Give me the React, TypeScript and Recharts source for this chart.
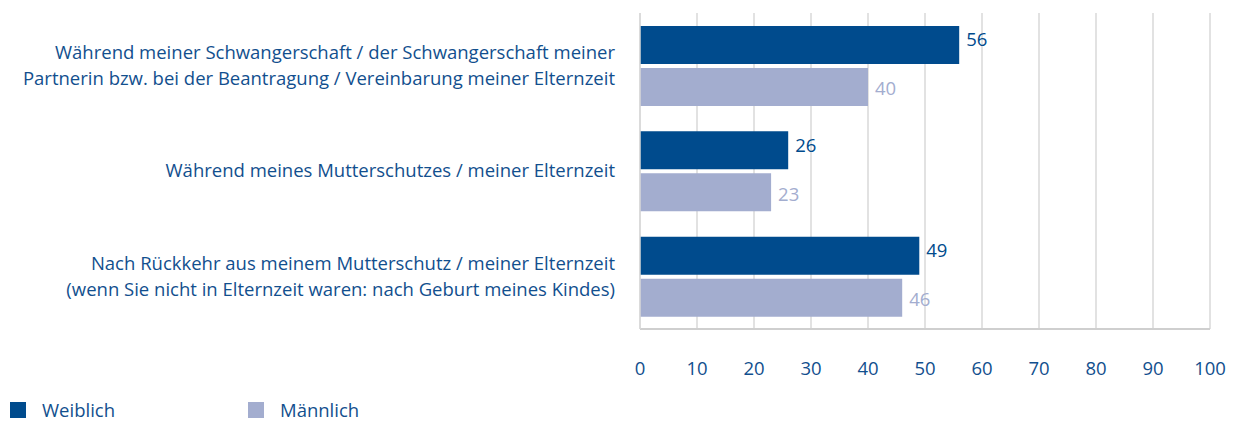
import { BarChart, Bar, XAxis, YAxis, CartesianGrid, LabelList } from "recharts"

const categories = [
  ["Während meiner Schwangerschaft / der Schwangerschaft meiner", "Partnerin bzw. bei der Beantragung / Vereinbarung meiner Elternzeit"],
  ["Während meines Mutterschutzes / meiner Elternzeit"],
  ["Nach Rückkehr aus meinem Mutterschutz / meiner Elternzeit", "(wenn Sie nicht in Elternzeit waren: nach Geburt meines Kindes)"],
]
const weiblich = [56, 26, 49]
const maennlich = [40, 23, 46]
const xTicks = [0, 10, 20, 30, 40, 50, 60, 70, 80, 90, 100]

const DARK = "#004b8d"
const LIGHT = "#a3adcf"
const TEXT = "#124f8e"
const FONT = "'Open Sans', sans-serif"
const FS = 18.5

const data = categories.map((lines, i) => ({
  name: lines.join("\n"),
  weiblich: weiblich[i],
  maennlich: maennlich[i],
}))

function CategoryTick(props: any) {
  const { x, y, payload } = props
  const lines: string[] = String(payload.value).split("\n")
  const start = -((lines.length - 1) * 26) / 2
  return (
    <text x={x} y={y} textAnchor="end" fill={TEXT} fontSize={FS} fontFamily={FONT}>
      {lines.map((l, i) => (
        <tspan key={i} x={x} y={y + start + i * 26} dy="0.35em">
          {l}
        </tspan>
      ))}
    </text>
  )
}

function valueLabel(color: string, shift: number) {
  return (props: any) => {
    const { x, y, width, height, value } = props
    return (
      <text
        x={x + width + 7}
        y={y + height / 2 + shift}
        dy="0.35em"
        fill={color}
        fontSize={FS}
        fontFamily={FONT}
      >
        {value}
      </text>
    )
  }
}

export default function App() {
  return (
    <div style={{ position: "absolute", left: 0, top: 0, width: 1240, height: 421, background: "#fff", overflow: "hidden" }}>
      <BarChart
        layout="vertical"
        width={1240}
        height={421}
        data={data}
        margin={{ top: 13, right: 30, left: 0, bottom: 32 }}
        barSize={38}
        barGap={4}
      >
        <CartesianGrid horizontal={false} stroke="#d9d9d9" strokeWidth={1.5} />
        <XAxis
          type="number"
          domain={[0, 100]}
          ticks={xTicks}
          height={60}
          tickLine={false}
          axisLine={{ stroke: "#cfcfcf", strokeWidth: 2 }}
          tick={{ fill: TEXT, fontSize: FS, fontFamily: FONT }}
          tickMargin={27}
        />
        <YAxis
          type="category"
          dataKey="name"
          width={640}
          tickLine={false}
          axisLine={{ stroke: "#d9d9d9", strokeWidth: 1.5 }}
          tick={<CategoryTick />}
          tickMargin={19}
          interval={0}
        />
        <Bar dataKey="weiblich" fill={DARK} isAnimationActive={false}>
          <LabelList dataKey="weiblich" content={valueLabel(DARK, -5)} />
        </Bar>
        <Bar dataKey="maennlich" fill={LIGHT} isAnimationActive={false}>
          <LabelList dataKey="maennlich" content={valueLabel(LIGHT, 2)} />
        </Bar>
      </BarChart>
      <div style={{ position: "absolute", left: 10, top: 400, height: 20, lineHeight: "20px", display: "flex", alignItems: "center", fontFamily: FONT, fontSize: FS, color: TEXT }}>
        <span style={{ width: 16, height: 16, background: DARK, display: "inline-block" }} />
        <span style={{ marginLeft: 16, width: 206 }}>Weiblich</span>
        <span style={{ width: 16, height: 16, background: LIGHT, display: "inline-block" }} />
        <span style={{ marginLeft: 16 }}>Männlich</span>
      </div>
    </div>
  )
}
